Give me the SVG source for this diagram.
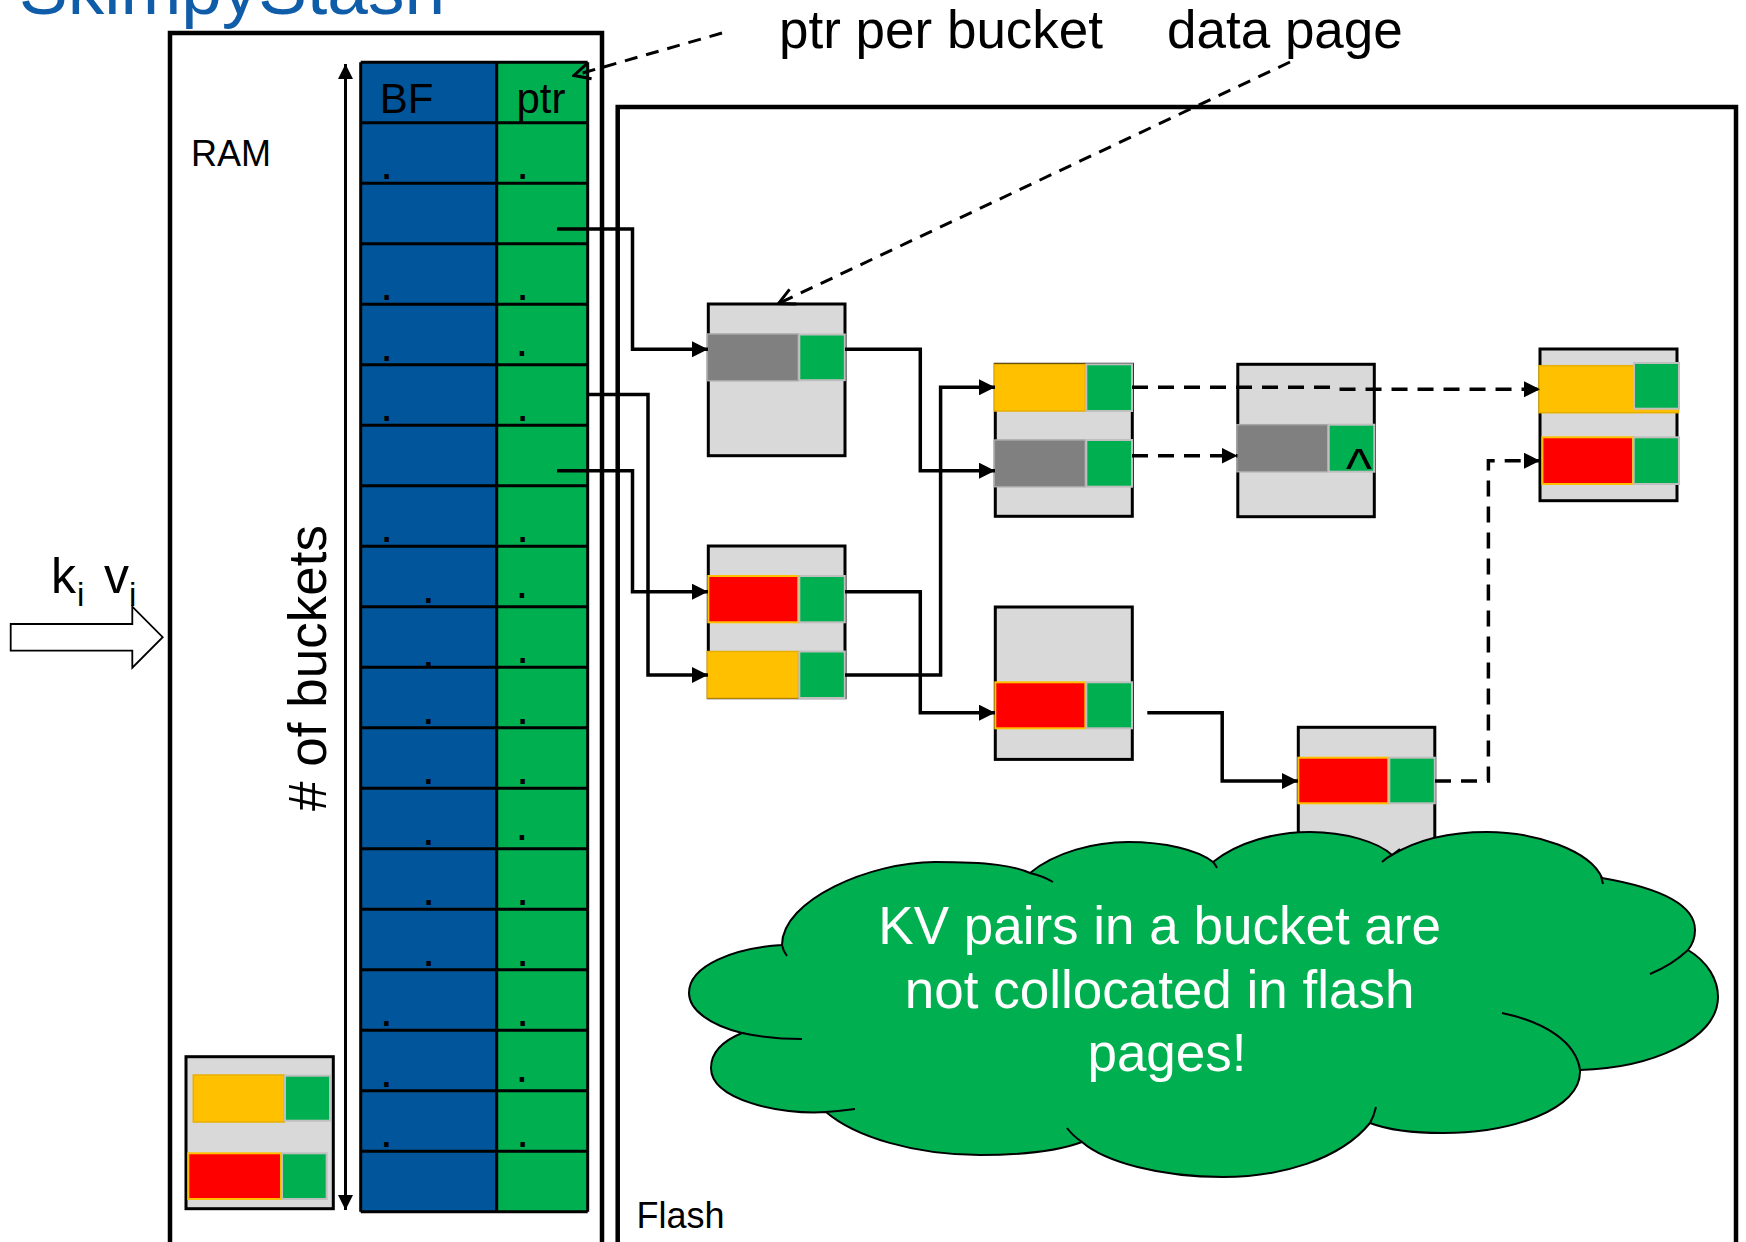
<svg xmlns="http://www.w3.org/2000/svg" width="1746" height="1242" viewBox="0 0 1746 1242">
  <style>
    text { font-family: "Liberation Sans", Arial, sans-serif; }
    .region { fill: #fff; stroke: #000; stroke-width: 4.5; }
    .page { fill: #D9D9D9; stroke: #000; stroke-width: 3; }
    .k-gray { fill: #808080; stroke: #A6A6A6; stroke-width: 1.5; }
    .k-yel { fill: #FFC000; stroke: #E8AE00; stroke-width: 1.5; }
    .k-red { fill: #FF0000; stroke: #FFC000; stroke-width: 2; }
    .v-grn { fill: #00B050; stroke: #BFBFBF; stroke-width: 2; }
    .wire { fill: none; stroke: #000; stroke-width: 3.5; marker-end: url(#tri); }
    .wire-dash { fill: none; stroke: #000; stroke-width: 3.5; stroke-dasharray: 16 10; marker-end: url(#tri); }
    .note { fill: none; stroke: #000; stroke-width: 3; stroke-dasharray: 13 9; marker-end: url(#vee); }
    .grid { fill: none; stroke: #000; stroke-width: 3; }
    .dot { font-size: 46px; fill: #000; text-anchor: middle; }
    .label { font-size: 53px; fill: #000; }
    .stub { fill: none; stroke: #000; stroke-width: 2; }
  </style>
  <defs>
    <marker id="tri" markerUnits="userSpaceOnUse" viewBox="0 0 16 16" markerWidth="16" markerHeight="16" refX="16" refY="8" orient="auto">
      <path d="M0,0 L16,8 L0,16 z" fill="#000"/>
    </marker>
    <marker id="tri-v" markerUnits="userSpaceOnUse" viewBox="0 0 15 15" markerWidth="15" markerHeight="15" refX="15" refY="7.5" orient="auto-start-reverse">
      <path d="M0,0 L15,7.5 L0,15 z" fill="#000"/>
    </marker>
    <marker id="vee" markerUnits="userSpaceOnUse" viewBox="0 0 20 20" markerWidth="20" markerHeight="20" refX="18" refY="10" orient="auto">
      <path d="M2,2 L18,10 L2,18" fill="none" stroke="#000" stroke-width="3"/>
    </marker>
  </defs>

  <rect width="1746" height="1242" fill="#fff"/>

  <!-- title (runs off the top edge) -->
  <text x="19" y="14" font-size="73" fill="#0F5CA8">SkimpyStash</text>

  <!-- RAM region -->
  <g id="ram">
    <rect class="region" x="170" y="33" width="432" height="1240"/>
    <text x="191" y="166" font-size="36">RAM</text>
  </g>

  <!-- Flash region -->
  <g id="flash">
    <rect class="region" x="617.7" y="107" width="1118.3" height="1170"/>
    <text x="636.5" y="1228" font-size="36">Flash</text>
  </g>

  <!-- bucket table: Bloom filter + pointer per bucket -->
  <g id="bucket-table">
    <rect x="360.7" y="62.3" width="136" height="1149.5" fill="#00559B"/>
    <rect x="496.7" y="62.3" width="91" height="1149.5" fill="#00B050"/>
    <path class="grid" d="M360.7,62.3H587.7M360.7,122.8H587.7M360.7,183.3H587.7M360.7,243.8H587.7M360.7,304.3H587.7M360.7,364.8H587.7M360.7,425.3H587.7M360.7,485.8H587.7M360.7,546.3H587.7M360.7,606.8H587.7M360.7,667.3H587.7M360.7,727.8H587.7M360.7,788.3H587.7M360.7,848.8H587.7M360.7,909.3H587.7M360.7,969.8H587.7M360.7,1030.3H587.7M360.7,1090.8H587.7M360.7,1151.3H587.7M360.7,1211.8H587.7M360.7,62.3V1211.8M496.7,62.3V1211.8M587.7,62.3V1211.8"/>
    <text x="406.5" y="113.3" font-size="42" text-anchor="middle">BF</text>
    <text x="541" y="113.3" font-size="42" text-anchor="middle">ptr</text>
    <text class="dot" x="386.7" y="178.5">.</text><text class="dot" x="522.7" y="178.5">.</text>
    <text class="dot" x="386.7" y="299.5">.</text><text class="dot" x="522.7" y="299.5">.</text>
    <text class="dot" x="386.7" y="360.5">.</text><text class="dot" x="522" y="355.8">.</text>
    <text class="dot" x="386.7" y="420.5">.</text><text class="dot" x="522.7" y="420.5">.</text>
    <text class="dot" x="386.7" y="541.8">.</text><text class="dot" x="522.7" y="541.8">.</text>
    <text class="dot" x="428.3" y="602.5">.</text><text class="dot" x="522" y="598.2">.</text>
    <text class="dot" x="428.3" y="666.8">.</text><text class="dot" x="522.7" y="662.8">.</text>
    <text class="dot" x="428.3" y="723.5">.</text><text class="dot" x="522.7" y="723.5">.</text>
    <text class="dot" x="428.3" y="783.8">.</text><text class="dot" x="522.7" y="783.8">.</text>
    <text class="dot" x="428.3" y="844.8">.</text><text class="dot" x="522" y="840.2">.</text>
    <text class="dot" x="428.7" y="905">.</text><text class="dot" x="522.7" y="905">.</text>
    <text class="dot" x="428.7" y="965.8">.</text><text class="dot" x="522.7" y="965.8">.</text>
    <text class="dot" x="386.3" y="1025.8">.</text><text class="dot" x="522.7" y="1025.8">.</text>
    <text class="dot" x="386.3" y="1086.8">.</text><text class="dot" x="522" y="1082.2">.</text>
    <text class="dot" x="386.3" y="1146.8">.</text><text class="dot" x="522.7" y="1146.8">.</text>
  </g>

  <!-- bucket count dimension -->
  <g id="bucket-count">
    <path d="M345.5,64V1210" fill="none" stroke="#000" stroke-width="3" marker-start="url(#tri-v)" marker-end="url(#tri-v)"/>
    <text class="label" transform="translate(326,668) rotate(-90)" text-anchor="middle"># of buckets</text>
  </g>

  <!-- incoming key/value -->
  <g id="insert">
    <path d="M10.7,624H132.3V606.7L162.7,637.2L132.3,667.7V650.7H10.7Z" fill="#fff" stroke="#000" stroke-width="1.8"/>
    <text font-size="50"><tspan x="51" y="593">k</tspan><tspan x="77" y="606" font-size="33">i</tspan><tspan x="104" y="593">v</tspan><tspan x="129" y="606" font-size="33">i</tspan></text>
  </g>

  <!-- write buffer page in RAM -->
  <g id="ram-page">
    <rect class="page" x="186" y="1056.7" width="147.3" height="152"/>
    <rect class="k-yel" x="193.3" y="1075" width="91" height="47"/>
    <rect class="v-grn" x="285" y="1075.7" width="45" height="45"/>
    <rect class="k-red" x="188.3" y="1153.3" width="92.7" height="45.7"/>
    <rect class="v-grn" x="282" y="1153.3" width="44.7" height="45.7"/>
  </g>

  <!-- flash data pages -->
  <g id="page-a">
    <rect class="page" x="708.3" y="304" width="136.7" height="151.7"/>
    <rect class="k-gray" x="707.3" y="334" width="91" height="46.7"/>
    <rect class="v-grn" x="799.3" y="334.5" width="45.5" height="45.7"/>
  </g>
  <g id="page-b">
    <rect class="page" x="708.3" y="546" width="136.7" height="151.7"/>
    <rect class="k-red" x="708.3" y="576" width="90" height="46.3"/>
    <rect class="v-grn" x="799.3" y="576" width="45.5" height="46.3"/>
    <rect class="k-yel" x="707.3" y="651.5" width="91" height="46.5"/>
    <rect class="v-grn" x="799.3" y="651.5" width="45.5" height="46.5"/>
  </g>
  <g id="page-c">
    <rect class="page" x="995.3" y="364.3" width="137" height="152"/>
    <rect class="k-yel" x="994.3" y="364.3" width="91" height="46.7"/>
    <rect class="v-grn" x="1086.3" y="364.3" width="45.7" height="46.7"/>
    <rect class="k-gray" x="994.3" y="440" width="91" height="46.7"/>
    <rect class="v-grn" x="1086.3" y="440" width="45.7" height="46.7"/>
  </g>
  <g id="page-d">
    <rect class="page" x="995.3" y="607" width="137" height="152.4"/>
    <rect class="k-red" x="995.3" y="682.3" width="90" height="46"/>
    <rect class="v-grn" x="1086.3" y="682.3" width="45.7" height="46"/>
  </g>
  <g id="page-e">
    <rect class="page" x="1237.8" y="364.3" width="136.5" height="152.4"/>
    <rect class="k-gray" x="1236.8" y="424.7" width="91" height="47"/>
    <rect class="v-grn" x="1328.7" y="424.7" width="45.6" height="47"/>
    <text x="1359" y="487" font-size="56" text-anchor="middle">^</text>
  </g>
  <g id="page-f">
    <rect class="page" x="1540" y="349" width="137" height="151.7"/>
    <rect class="k-yel" x="1539" y="365.7" width="139.5" height="47"/>
    <rect class="v-grn" x="1634" y="363" width="45" height="45.7"/>
    <rect class="k-red" x="1542.4" y="437.3" width="90.6" height="46.7"/>
    <rect class="v-grn" x="1633.7" y="437.3" width="45.3" height="46.7"/>
  </g>
  <g id="page-g">
    <rect class="page" x="1298.3" y="727.3" width="136.5" height="152"/>
    <rect class="k-red" x="1298.3" y="757.7" width="90" height="45.6"/>
    <rect class="v-grn" x="1389.3" y="757.7" width="45.5" height="45.6"/>
  </g>

  <!-- pointers between buckets and pages -->
  <g id="connectors">
    <path class="wire" d="M557,229H632.5V349.3H708"/>
    <path class="wire" d="M588,394.5H648V675H708"/>
    <path class="wire" d="M557,470.7H632.5V591.7H708"/>
    <path class="wire" d="M845,349.3H920.3V470.7H995"/>
    <path class="wire" d="M845,591.7H920.3V712.7H995"/>
    <path class="wire" d="M845,675H940.6V387.3H995"/>
    <path class="wire" d="M1147.3,712.7H1222.2V781H1298"/>
    <path class="wire-dash" d="M1132,387.3H1333L1337,389.3H1540"/>
    <path class="wire-dash" d="M1132,455.7H1237.5"/>
    <path class="wire-dash" d="M1435,781H1488.4V460.7H1540"/>
    <path class="note" d="M722,33L574,75.5"/>
    <path class="note" d="M1290,62L778.5,303.5"/>
  </g>

  <!-- callout cloud -->
  <g id="cloud">
    <path d="M782,945C782,900 870,862 935,862C990,862 1015,866 1030,873C1055,852 1095,842 1128,842C1165,842 1198,850 1213,862C1238,842 1275,832 1310,832C1345,832 1378,842 1392,855C1420,838 1455,832 1487,832C1535,832 1590,850 1602,878C1660,888 1695,905 1695,930C1695,938 1692,945 1688,950C1708,962 1718,980 1718,997C1718,1040 1650,1068 1580,1070C1582,1110 1510,1133 1443,1133C1415,1133 1388,1130 1370,1123C1340,1160 1280,1177 1223,1177C1160,1177 1105,1162 1082,1142C1055,1152 1020,1155 980,1155C915,1155 855,1137 826,1112C780,1115 711,1100 711,1068C711,1050 725,1040 742,1033C710,1025 689,1010 689,993C689,965 735,948 782,945Z" fill="#00B050" stroke="#000" stroke-width="2"/>
    <path class="stub" d="M1030,873Q1043,876 1053,882M782,945Q783,951 787,956M742,1033Q770,1039 802,1039M826,1112Q840,1111 855,1109M1067,1128Q1073,1136 1082,1142M1213,862Q1215,864 1217,868M1382,862Q1386,858 1392,855Q1396,852 1400,849M1601,876L1603,884M1688,950Q1672,965 1650,974M1502,1013C1545,1022 1576,1042 1580,1070M1376,1107Q1374,1116 1370,1123"/>
    <text font-size="53" fill="#fff" text-anchor="middle">
      <tspan x="1167" y="944">KV pairs in a bucket are</tspan>
      <tspan x="1167" y="1008">not collocated in flash</tspan>
      <tspan x="1167" y="1071">pages!</tspan>
    </text>
  </g>

  <!-- annotations -->
  <g id="annotations">
    <text class="label" x="779" y="48">ptr per bucket</text>
    <text class="label" x="1167" y="48">data page</text>
  </g>
</svg>
